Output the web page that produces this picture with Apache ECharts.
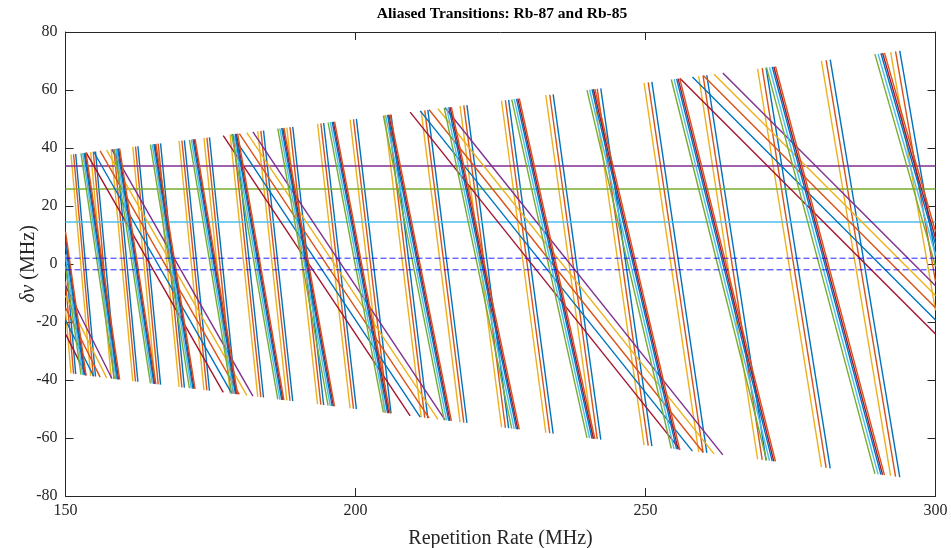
<!DOCTYPE html>
<html>
<head>
<meta charset="utf-8">
<script src="https://cdn.jsdelivr.net/npm/echarts@6/dist/echarts.min.js"></script>
<style>
  html, body { margin: 0; padding: 0; background: #ffffff; }
  #chart { width: 951px; height: 548px; }
</style>
</head>
<body>
<div id="chart"></div>
<script>
// Axis ticks
const xTicks = [150, 200, 250, 300];
const yTicks = [-80, -60, -40, -20, 0, 20, 40, 60, 80];

// Each trace is a flat list of straight segments: x1, y1, x2, y2, ...
// (repetition rate in MHz, aliased offset in MHz)
const t01 = [150,2.6,151.76,-37.94, 151.76,37.94,155.17,-38.79, 155.17,38.79,158.74,-39.69, 158.74,39.69,162.48,-40.62,
  162.48,40.62,166.39,-41.60, 166.39,41.60,170.50,-42.62, 170.50,42.62,174.82,-43.70, 174.82,43.70,179.36,-44.84,
  179.36,44.84,184.14,-46.03, 184.14,46.03,189.18,-47.30, 189.18,47.30,194.51,-48.63, 194.51,48.63,200.15,-50.04,
  200.15,50.04,206.13,-51.53, 206.13,51.53,212.47,-53.12, 212.47,53.12,219.21,-54.80, 219.21,54.80,226.40,-56.60,
  226.40,56.60,234.08,-58.52, 234.08,58.52,242.29,-60.57, 242.29,60.57,251.10,-62.78, 251.10,62.78,260.57,-65.14,
  260.57,65.14,270.79,-67.70, 270.79,67.70,281.85,-70.46, 281.85,70.46,293.84,-73.46, 293.84,73.46,300,2.6];
const t02 = [150,-6.0,151.39,-37.85, 151.39,37.85,154.79,-38.70, 154.79,38.70,158.35,-39.59, 158.35,39.59,162.07,-40.52,
  162.07,40.52,165.98,-41.50, 165.98,41.50,170.07,-42.52, 170.07,42.52,174.38,-43.60, 174.38,43.60,178.91,-44.73,
  178.91,44.73,183.68,-45.92, 183.68,45.92,188.71,-47.18, 188.71,47.18,194.03,-48.51, 194.03,48.51,199.65,-49.91,
  199.65,49.91,205.61,-51.40, 205.61,51.40,211.94,-52.99, 211.94,52.99,218.67,-54.67, 218.67,54.67,225.84,-56.46,
  225.84,56.46,233.49,-58.37, 233.49,58.37,241.68,-60.42, 241.68,60.42,250.47,-62.62, 250.47,62.62,259.92,-64.98,
  259.92,64.98,270.12,-67.53, 270.12,67.53,281.14,-70.29, 281.14,70.29,293.11,-73.28, 293.11,73.28,300,-6.0];
const t03 = [150,-16.0,150.95,-37.74, 150.95,37.74,154.34,-38.59, 154.34,38.59,157.89,-39.47, 157.89,39.47,161.60,-40.40,
  161.60,40.40,165.49,-41.37, 165.49,41.37,169.58,-42.40, 169.58,42.40,173.87,-43.47, 173.87,43.47,178.39,-44.60,
  178.39,44.60,183.15,-45.79, 183.15,45.79,188.16,-47.04, 188.16,47.04,193.46,-48.37, 193.46,48.37,199.07,-49.77,
  199.07,49.77,205.01,-51.25, 205.01,51.25,211.32,-52.83, 211.32,52.83,218.03,-54.51, 218.03,54.51,225.18,-56.30,
  225.18,56.30,232.81,-58.20, 232.81,58.20,240.98,-60.25, 240.98,60.25,249.75,-62.44, 249.75,62.44,259.17,-64.79,
  259.17,64.79,269.33,-67.33, 269.33,67.33,280.33,-70.08, 280.33,70.08,292.26,-73.06, 292.26,73.06,300,-16.0];
const t04 = [150,34.0,300,34.0];
const t05 = [150,26.0,300,26.0];
const t06 = [150,14.5,300,14.5];
const t07 = [150,-24.1,153.57,-38.39, 153.57,38.39,177.20,-44.30, 177.20,44.30,209.42,-52.35, 209.42,52.35,255.96,-63.99, 255.96,63.99,300,-24.1];
const t08 = [150,-19.3,154.85,-38.71, 154.85,38.71,178.68,-44.67, 178.68,44.67,211.16,-52.79, 211.16,52.79,258.09,-64.52, 258.09,64.52,300,-19.3];
const t09 = [150,-15.1,155.97,-38.99, 155.97,38.99,179.97,-44.99, 179.97,44.99,212.69,-53.17, 212.69,53.17,259.96,-64.99, 259.96,64.99,300,-15.1];
const t10 = [150,-10.9,157.09,-39.27, 157.09,39.27,181.26,-45.32, 181.26,45.32,214.22,-53.55, 214.22,53.55,261.82,-65.46, 261.82,65.46,300,-10.9];
const t11 = [150,-7.5,158.00,-39.50, 158.00,39.50,182.31,-45.58, 182.31,45.58,215.45,-53.86, 215.45,53.86,263.33,-65.83, 263.33,65.83,300,-7.5];
const t12 = [150,-0.8,152.67,-38.17, 152.67,38.17,158.43,-39.61, 158.43,39.61,164.64,-41.16, 164.64,41.16,171.36,-42.84,
  171.36,42.84,178.66,-44.66, 178.66,44.66,186.60,-46.65, 186.60,46.65,195.27,-48.82, 195.27,48.82,204.80,-51.20,
  204.80,51.20,215.30,-53.83, 215.30,53.83,226.94,-56.74, 226.94,56.74,239.91,-59.98, 239.91,59.98,254.45,-63.61,
  254.45,63.61,270.87,-67.72, 270.87,67.72,289.55,-72.39, 289.55,72.39,300,-0.8];
const t13 = [150,3.2,152.96,-38.24, 152.96,38.24,158.73,-39.68, 158.73,39.68,164.96,-41.24, 164.96,41.24,171.69,-42.92,
  171.69,42.92,179.00,-44.75, 179.00,44.75,186.95,-46.74, 186.95,46.74,195.65,-48.91, 195.65,48.91,205.19,-51.30,
  205.19,51.30,215.71,-53.93, 215.71,53.93,227.37,-56.84, 227.37,56.84,240.37,-60.09, 240.37,60.09,254.93,-63.73,
  254.93,63.73,271.38,-67.85, 271.38,67.85,290.10,-72.52, 290.10,72.52,300,3.2];
const t14 = [150,8.9,153.37,-38.34, 153.37,38.34,159.16,-39.79, 159.16,39.79,165.40,-41.35, 165.40,41.35,172.16,-43.04,
  172.16,43.04,179.48,-44.87, 179.48,44.87,187.46,-46.86, 187.46,46.86,196.18,-49.04, 196.18,49.04,205.75,-51.44,
  205.75,51.44,216.30,-54.07, 216.30,54.07,227.99,-57.00, 227.99,57.00,241.02,-60.25, 241.02,60.25,255.62,-63.91,
  255.62,63.91,272.12,-68.03, 272.12,68.03,290.88,-72.72, 290.88,72.72,300,8.9];
const t15 = [150,6.8,153.22,-38.31, 153.22,38.31,159.00,-39.75, 159.00,39.75,165.24,-41.31, 165.24,41.31,171.98,-43.00,
  171.98,43.00,179.30,-44.83, 179.30,44.83,187.27,-46.82, 187.27,46.82,195.98,-49.00, 195.98,49.00,205.54,-51.39,
  205.54,51.39,216.08,-54.02, 216.08,54.02,227.76,-56.94, 227.76,56.94,240.78,-60.19, 240.78,60.19,255.37,-63.84,
  255.37,63.84,271.85,-67.96, 271.85,67.96,290.59,-72.65, 290.59,72.65,300,6.8];
const t16 = [150,11.2,153.54,-38.39, 153.54,38.39,159.34,-39.83, 159.34,39.83,165.58,-41.40, 165.58,41.40,172.34,-43.09,
  172.34,43.09,179.68,-44.92, 179.68,44.92,187.66,-46.92, 187.66,46.92,196.39,-49.10, 196.39,49.10,205.97,-51.49,
  205.97,51.49,216.53,-54.13, 216.53,54.13,228.24,-57.06, 228.24,57.06,241.28,-60.32, 241.28,60.32,255.90,-63.98,
  255.90,63.98,272.41,-68.10, 272.41,68.10,291.20,-72.80, 291.20,72.80,300,11.2];

// Capture window (±2 MHz), dashed
const bandUpper = [[150, 2], [300, 2]];
const bandLower = [[150, -2], [300, -2]];

const traces = [t01,t02,t03,t04,t05,t06,t07,t08,t09,t10,t11,t12,t13,t14,t15,t16];
const palette = ['#0072BD','#D95319','#EDB120','#7E2F8E','#77AC30','#4DBEEE','#A2142F'];

function toSegments(flat) {
  const out = [];
  for (let i = 0; i + 3 < flat.length; i += 4) {
    out.push({ coords: [[flat[i], flat[i + 1]], [flat[i + 2], flat[i + 3]]] });
  }
  return out;
}

const serif = 'Liberation Serif, Times New Roman, serif';
const axisColor = '#262626';

const series = traces.map((tr, i) => ({
  type: 'lines',
  coordinateSystem: 'cartesian2d',
  polyline: false,
  silent: true,
  animation: false,
  lineStyle: { color: palette[i % palette.length], width: tr.length === 4 ? 1.6 : 1.4, opacity: 1, curveness: 0 },
  data: toSegments(tr)
}));
[bandUpper, bandLower].forEach(b => series.push({
  type: 'line',
  data: b,
  showSymbol: false,
  symbol: 'none',
  silent: true,
  animation: false,
  itemStyle: { color: '#0000FF' },
  lineStyle: { color: '#0000FF', width: 1, type: [6, 3], opacity: 0.85 }
}));

const xBase = {
  type: 'value', min: xTicks[0], max: xTicks[xTicks.length - 1], interval: xTicks[1] - xTicks[0],
  axisLine: { show: true, onZero: false, lineStyle: { color: axisColor, width: 1 } },
  axisTick: { show: true, inside: true, length: 8, lineStyle: { color: axisColor } },
  splitLine: { show: false }
};
const yBase = {
  type: 'value', min: yTicks[0], max: yTicks[yTicks.length - 1], interval: yTicks[1] - yTicks[0],
  axisLine: { show: true, onZero: false, lineStyle: { color: axisColor, width: 1 } },
  axisTick: { show: true, inside: true, length: 8, lineStyle: { color: axisColor } },
  splitLine: { show: false }
};

const chart = echarts.init(document.getElementById('chart'), null, { renderer: 'canvas' });
chart.setOption({
  backgroundColor: '#ffffff',
  animation: false,
  title: {
    text: 'Aliased Transitions: Rb-87 and Rb-85',
    left: 497, top: 1, textAlign: 'center',
    textStyle: { fontFamily: serif, fontWeight: 'bold', fontSize: 15.5, color: '#000' }
  },
  grid: { left: 65.5, top: 32, width: 870, height: 464, containLabel: false, outerBoundsMode: 'none' },
  xAxis: [
    Object.assign({}, xBase, {
      position: 'bottom',
      name: 'Repetition Rate (MHz)', nameLocation: 'middle', nameGap: 33, nameMoveOverlap: false,
      nameTextStyle: { fontFamily: serif, fontSize: 20, color: axisColor },
      axisLabel: { show: true, margin: 7, fontFamily: serif, fontSize: 16, color: axisColor }
    }),
    Object.assign({}, xBase, { position: 'top', axisLabel: { show: false } })
  ],
  yAxis: [
    Object.assign({}, yBase, {
      position: 'left',
      name: '{i|δν} (MHz)', nameLocation: 'middle', nameGap: 27, nameRotate: 90, nameMoveOverlap: false,
      nameTextStyle: { fontFamily: serif, fontSize: 20, color: axisColor,
        rich: { i: { fontFamily: serif, fontSize: 20, fontStyle: 'italic', color: axisColor } } },
      axisLabel: { show: true, margin: 8, fontFamily: serif, fontSize: 16, color: axisColor }
    }),
    Object.assign({}, yBase, { position: 'right', axisLabel: { show: false } })
  ],
  series: series
});
</script>
</body>
</html>
